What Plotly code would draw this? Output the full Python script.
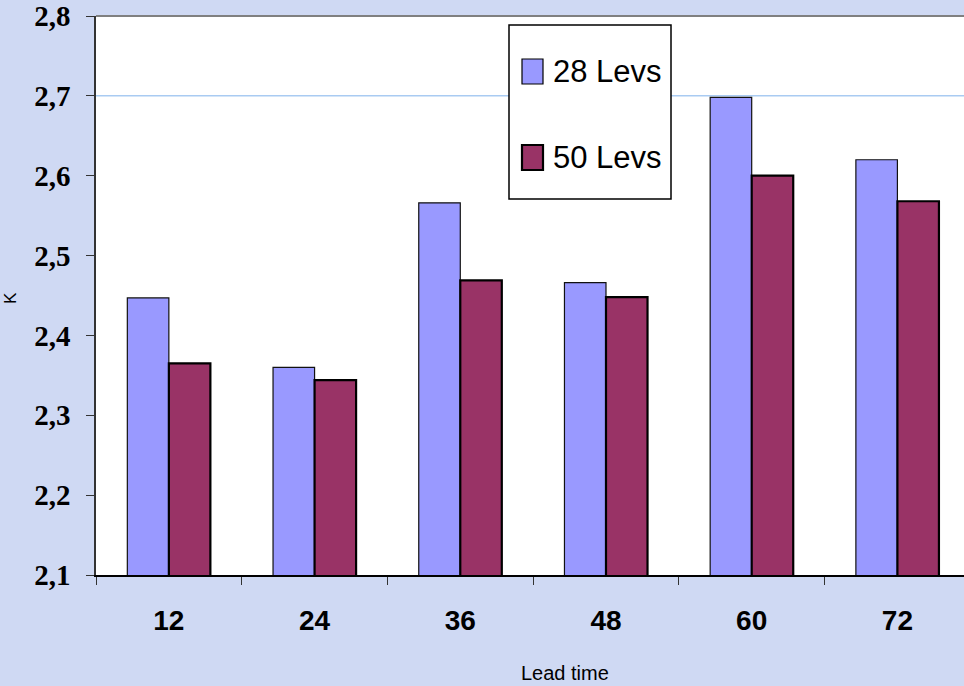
import plotly.graph_objects as go

# Forecast error (K) by lead time for two vertical resolutions
lead_times = ["12", "24", "36", "48", "60", "72"]
levs28 = [2.447, 2.360, 2.566, 2.466, 2.698, 2.620]
levs50 = [2.365, 2.344, 2.469, 2.448, 2.600, 2.568]
series_names = ["28 Levs", "50 Levs"]
y_ticks = [2.1, 2.2, 2.3, 2.4, 2.5, 2.6, 2.7, 2.8]

COL28 = "#9999FF"
COL50 = "#993366"
BG = "#cfd9f3"

fig = go.Figure()
fig.add_trace(go.Bar(x=lead_times, y=levs28, name=series_names[0],
                     marker=dict(color=COL28, line=dict(color="#111111", width=1.2))))
fig.add_trace(go.Bar(x=lead_times, y=levs50, name=series_names[1],
                     marker=dict(color=COL50, line=dict(color="#000000", width=2.2))))

fig.update_layout(
    width=964, height=686,
    margin=dict(l=96, r=0, t=16, b=111),
    paper_bgcolor=BG, plot_bgcolor="white",
    barmode="group", bargap=0.43, bargroupgap=0,
    showlegend=False,
    separators=",.",
    font=dict(family="Liberation Sans, Arial", color="black"),
)

fig.update_xaxes(
    type="category", range=[-0.5, 5.457],
    showline=True, linecolor="black", linewidth=1.5,
    ticks="outside", tickson="boundaries", ticklen=8, tickcolor="#333333",
    tickfont=dict(family="Liberation Sans, Arial", size=28, color="black", weight="bold"),
    ticklabelstandoff=20,
    showgrid=False,
)
fig.update_yaxes(
    range=[2.1, 2.8], tickvals=y_ticks, tickformat=".1f",
    showline=True, linecolor="#333333", linewidth=1.5,
    ticks="outside", ticklen=8, tickcolor="#333333",
    tickfont=dict(family="Liberation Serif, Times New Roman", size=29, color="black", weight="bold"),
    ticklabelstandoff=10,
    showgrid=False, zeroline=False,
)

# single light-blue gridline at 2,7 and gray frame line at the top
fig.add_shape(type="line", xref="paper", yref="y", x0=0, x1=1, y0=2.7, y1=2.7,
              line=dict(color="#a9cbf2", width=1.5), layer="below")
fig.add_shape(type="line", xref="paper", yref="paper", x0=0, x1=1, y0=1, y1=1,
              line=dict(color="#808080", width=2))

# axis titles
fig.add_annotation(text="Lead time", xref="paper", yref="paper", x=(565 - 96) / 868,
                   y=-(673 - 575) / 559, xanchor="center", yanchor="middle",
                   showarrow=False, font=dict(size=20, family="Liberation Sans, Arial"))
fig.add_annotation(text="K", xref="paper", yref="paper", x=-(96 - 10) / 868,
                   y=(575 - 298) / 559, xanchor="center", yanchor="middle", textangle=-90,
                   showarrow=False, font=dict(size=17, family="Liberation Sans, Arial"))

# legend box
def px_x(p):
    return (p - 96) / 868

def px_y(p):
    return (575 - p) / 559

fig.add_shape(type="rect", xref="paper", yref="paper",
              x0=px_x(509), x1=px_x(671), y0=px_y(199), y1=px_y(25),
              line=dict(color="black", width=1.5), fillcolor="white")
legend_rows = [(series_names[0], COL28, 59, 84, 1.2), (series_names[1], COL50, 145, 170, 2.2)]
for name, col, top, bot, lw in legend_rows:
    fig.add_shape(type="rect", xref="paper", yref="paper",
                  x0=px_x(522), x1=px_x(543), y0=px_y(bot), y1=px_y(top),
                  line=dict(color="black", width=lw), fillcolor=col)
    fig.add_annotation(text=name, xref="paper", yref="paper", x=px_x(551),
                       y=px_y((top + bot) / 2), xanchor="left", yanchor="middle",
                       showarrow=False, font=dict(size=31, family="Liberation Sans, Arial"))

fig.write_html("out.html")
